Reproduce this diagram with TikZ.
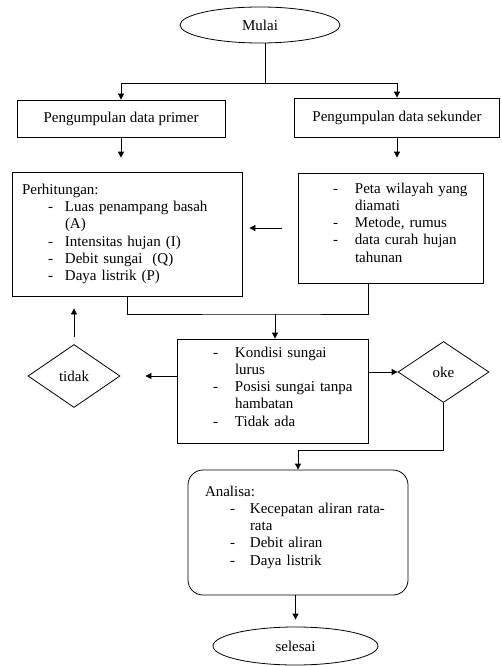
\documentclass[tikz,border=0pt]{standalone}
\usepackage{fontspec}
\setmainfont{Liberation Serif}
\usetikzlibrary{positioning,arrows.meta,shapes.geometric}
\newcommand{\butir}[3]{\hspace*{#1}\makebox[#2][l]{-}#3}
\tikzset{
  alur/.style={-{Triangle[length=6pt, width=6pt]}, line width=0.8pt},
  garis/.style={line width=0.8pt},
  ujung/.style={draw, ellipse, line width=0.8pt, inner sep=0pt, minimum width=160pt, minimum height=36pt},
  kotak/.style={draw, line width=0.8pt, inner sep=0pt},
  daftar/.style={draw, line width=0.8pt, inner xsep=10pt, inner ysep=0pt, align=left},
  putusan/.style={draw, diamond, line width=0.8pt, inner sep=0pt}
}

\begin{document}
\begin{tikzpicture}[x=1pt, y=-1pt, every node/.style={font=\fontsize{15}{17.25}\selectfont}]
\useasboundingbox (0,0) rectangle (501,666);
\node[ujung] (mulai) at (260,25) {Mulai};
\node[kotak, minimum width=208pt, minimum height=37pt] (primer) at (121,118.5) {Pengumpulan data primer};
\node[kotak, minimum width=205pt, minimum height=39pt] (sekunder) at (397,117.5) {Pengumpulan data sekunder};
\node[daftar, text width=210pt, minimum height=124pt] (hitung) at (127,234) {Perhitungan:\\
  \butir{26pt}{17pt}{Luas penampang basah}\\
  \hspace*{43pt}(A)\\
  \butir{26pt}{17pt}{Intensitas hujan (I)}\\
  \butir{26pt}{17pt}{Debit sungai~ (Q)}\\
  \butir{26pt}{17pt}{Daya listrik (P)}};
\node[daftar, text width=165pt, minimum height=110pt] (data) at (390.5,228) {\butir{25pt}{22pt}{\makebox[120pt][s]{Peta wilayah yang}}\\
  \hspace*{47pt}diamati\\
  \butir{25pt}{22pt}{Metode, rumus}\\
  \butir{25pt}{22pt}{\makebox[120pt][s]{data curah hujan}}\\
  \hspace*{47pt}tahunan\\[-6pt]\mbox{}};
\node[daftar, text width=171pt, minimum height=104pt] (kondisi) at (272.5,391) {\butir{26pt}{22pt}{Kondisi sungai}\\
  \hspace*{48pt}lurus\\
  \butir{26pt}{22pt}{Posisi sungai tanpa}\\
  \hspace*{48pt}hambatan\\
  \butir{26pt}{22pt}{Tidak ada}\\[-8pt]\mbox{}};
\node[putusan, minimum width=92pt, minimum height=63pt] (tidak) at (74,376) {tidak};
\node[putusan, minimum width=91pt, minimum height=61pt] (oke) at (443.5,372) {oke};
\node[daftar, rounded corners=15pt, text width=200pt, minimum height=125pt] (analisa) at (298,532.5) {\hspace*{7pt}Analisa:\\
  \butir{32pt}{20pt}{Kecepatan aliran rata-}\\
  \hspace*{52pt}rata\\
  \butir{32pt}{20pt}{Debit aliran}\\
  \butir{32pt}{20pt}{Daya listrik}\\[-3pt]\mbox{}};
\node[ujung, minimum width=165pt, minimum height=38pt] (selesai) at (295.5,646) {selesai};

\coordinate (cabang) at (265,83);
\coordinate (gabung) at (275,314);
\draw[garis] (mulai.south -| cabang) -- (cabang);
\draw[alur] (cabang) -| (primer.north);
\draw[alur] (cabang) -| (sekunder.north);
\draw[alur, shorten >=14pt] (primer.south) -- (primer.south |- hitung.north);
\draw[alur, shorten >=15pt] (sekunder.south) -- (sekunder.south |- data.north);
\draw[alur, shorten <=16pt, shorten >=7pt] (data.west) -- (data.west -| hitung.east);
\draw[garis] (hitung.south) |- (gabung) -| ([xshift=-22.5pt]data.south);
\draw[alur] (gabung) -- (gabung |- kondisi.north);
\draw[alur] (kondisi.east |- oke) -- (oke.west);
\draw[alur, shorten >=25pt] (kondisi.west |- tidak) -- (tidak.east);
\draw[alur, shorten <=7pt, shorten >=12pt] (tidak.north) -- (tidak.north |- hitung.south);
\draw[alur] (oke.south) -- ++(0,47) -| (analisa.north);
\draw[alur, shorten >=7pt] (analisa.south -| selesai.north) -- (selesai.north);
\end{tikzpicture}
\end{document}
